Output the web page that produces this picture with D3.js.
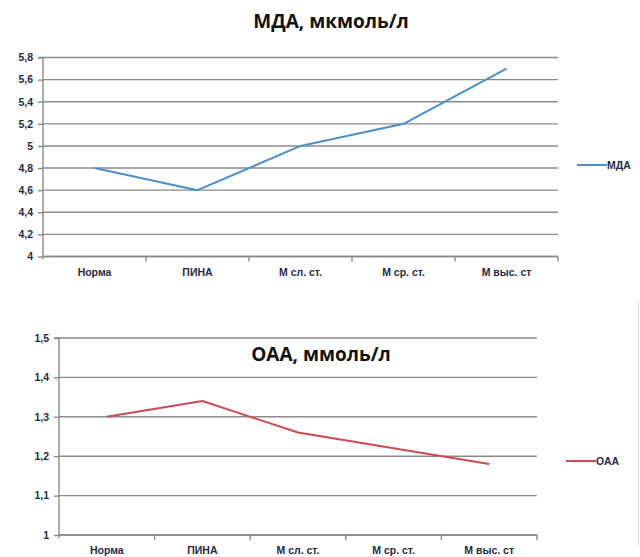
<!DOCTYPE html>
<html>
<head>
<meta charset="utf-8">
<script src="https://cdn.jsdelivr.net/npm/d3@7/dist/d3.min.js"></script>
<style>
  html, body { margin: 0; padding: 0; background: #fff; }
  svg { display: block; }
  .tick-label { font-family: "Liberation Sans", Arial, sans-serif; font-size: 10.5px; font-weight: bold; fill: #1f2a44; }
  .title { font-family: "Open Sans", "Liberation Sans", sans-serif; font-size: 19px; font-weight: bold; fill: #111; }
</style>
</head>
<body>
<svg id="chart" width="640" height="557"></svg>
<script>
// Shared categories
const categories = ["Норма", "ПИНА", "М сл. ст.", "М ср. ст.", "М выс. ст"];

// Malondialdehyde (MDA), µmol/L
const mdaValues = [4.8, 4.6, 5.0, 5.2, 5.7];
const mdaTicks = [4, 4.2, 4.4, 4.6, 4.8, 5, 5.2, 5.4, 5.6, 5.8];

// Total antioxidant activity (OAA), mmol/L
const oaaValues = [1.30, 1.34, 1.26, 1.22, 1.18];
const oaaTicks = [1, 1.1, 1.2, 1.3, 1.4, 1.5];

const svg = d3.select("#chart");
const fmt = v => String(+v.toFixed(2)).replace(".", ",");

function drawPanel(cfg) {
  const g = svg.append("g");
  const x = d3.scaleBand().domain(categories).range([cfg.left, cfg.right]);
  const y = d3.scaleLinear().domain(cfg.domain).range([cfg.bottom, cfg.top]);

  // horizontal gridlines
  g.selectAll("line.grid").data(cfg.ticks).join("line")
    .attr("x1", cfg.left).attr("x2", cfg.right)
    .attr("y1", d => y(d)).attr("y2", d => y(d))
    .attr("stroke", "#8a8a8a").attr("stroke-width", 1.4);

  // y axis with outside tick marks
  const yAxis = d3.axisLeft(y).tickValues(cfg.ticks).tickSize(5).tickPadding(5).tickFormat(fmt);
  const ya = g.append("g").attr("transform", `translate(${cfg.left},0)`).call(yAxis);
  ya.select(".domain").attr("stroke", "#8a8a8a").attr("stroke-width", 1.4)
    .attr("d", `M-5,${y(cfg.domain[1])}H0V${cfg.bottom + 3}`);
  ya.selectAll(".tick line").attr("stroke", "#8a8a8a").attr("stroke-width", 1.4);
  ya.selectAll(".tick text").attr("class", "tick-label").attr("fill", null);

  // x axis: tick marks at category boundaries, labels centred in bands
  const bounds = categories.map(c => x(c)).concat([x.range()[1]]);
  g.append("line").attr("x1", cfg.left).attr("x2", cfg.right)
    .attr("y1", cfg.bottom).attr("y2", cfg.bottom)
    .attr("stroke", "#8a8a8a").attr("stroke-width", 1.4);
  g.selectAll("line.xt").data(bounds.slice(1)).join("line")
    .attr("x1", d => d).attr("x2", d => d)
    .attr("y1", cfg.bottom).attr("y2", cfg.bottom + 5)
    .attr("stroke", "#8a8a8a").attr("stroke-width", 1.4);
  g.selectAll("text.xl").data(categories).join("text")
    .attr("class", "tick-label")
    .attr("x", d => x(d) + x.bandwidth() / 2)
    .attr("y", cfg.bottom + 19)
    .attr("text-anchor", "middle")
    .text(d => d);

  // series line
  const line = d3.line()
    .x((d, i) => x(categories[i]) + x.bandwidth() / 2)
    .y(d => y(d));
  g.append("path").datum(cfg.values)
    .attr("d", line)
    .attr("fill", "none")
    .attr("stroke", cfg.color)
    .attr("stroke-width", 2)
    .attr("stroke-linejoin", "round");

  // legend
  g.append("line")
    .attr("x1", cfg.legendX).attr("x2", cfg.legendX + 30)
    .attr("y1", cfg.legendY).attr("y2", cfg.legendY)
    .attr("stroke", cfg.color).attr("stroke-width", 2);
  g.append("text").attr("class", "tick-label")
    .attr("x", cfg.legendX + 30).attr("y", cfg.legendY + 3.5)
    .text(cfg.name);

  // title
  g.append("text").attr("class", "title")
    .attr("x", cfg.titleX).attr("y", cfg.titleY)
    .attr("text-anchor", "middle")
    .text(cfg.title);
}

drawPanel({
  values: mdaValues, ticks: mdaTicks, domain: [4, 5.8],
  left: 43, right: 558, top: 57.5, bottom: 256.5,
  color: "#4a8fc9", name: "МДА",
  legendX: 577, legendY: 165,
  title: "МДА, мкмоль/л", titleX: 331, titleY: 28
});

drawPanel({
  values: oaaValues, ticks: oaaTicks, domain: [1, 1.5],
  left: 59, right: 537, top: 338, bottom: 535,
  color: "#cc4a55", name: "ОАА",
  legendX: 566, legendY: 461,
  title: "ОАА, ммоль/л", titleX: 321, titleY: 361
});

// faint frame edge on the right of the lower chart
svg.append("line")
  .attr("x1", 638.5).attr("x2", 638.5).attr("y1", 300).attr("y2", 545)
  .attr("stroke", "#d8d8d8").attr("stroke-width", 1);
</script>
</body>
</html>
